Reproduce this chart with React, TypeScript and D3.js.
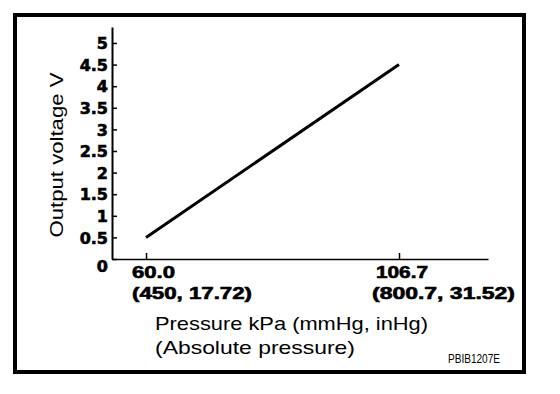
import React, { useEffect, useRef } from 'react';
import * as d3 from 'd3';

// Sensor characteristic: pressure (kPa) vs output voltage (V)
const pressureKpa = [60.0, 106.7];
const outputVoltage = [0.5, 4.5];
const pressureTickLabels = ['60.0', '106.7'];
const pressureSubLabels = ['(450, 17.72)', '(800.7, 31.52)'];
const voltageTicks = [0, 0.5, 1, 1.5, 2, 2.5, 3, 3.5, 4, 4.5, 5];

const W = 560;
const H = 394;

const App: React.FC = () => {
  const svgRef = useRef<SVGSVGElement>(null);

  useEffect(() => {
    if (!svgRef.current) return;
    const svg = d3.select(svgRef.current);
    svg.selectAll('*').remove();

    const font = "'Liberation Sans', Arial, sans-serif";

    // outer frame
    svg.append('rect')
      .attr('x', 15).attr('y', 15)
      .attr('width', 509).attr('height', 357)
      .attr('fill', 'none')
      .attr('stroke', '#000')
      .attr('stroke-width', 4);

    const x = d3.scaleLinear().domain([53.72, 123.13]).range([112, 488]);
    const y = d3.scaleLinear().domain([0, 5.37]).range([259, 27]);

    // Y axis with inward ticks
    const yAxis = svg.append('g')
      .attr('transform', `translate(${x.range()[0]},0)`)
      .call(d3.axisLeft(y).tickValues(voltageTicks).tickSize(-5).tickSizeOuter(0).tickPadding(4).tickFormat(d => String(d)));
    yAxis.select('.domain').attr('stroke-width', 2);
    yAxis.selectAll('.tick line').attr('stroke-width', 1.5);
    yAxis.selectAll('.tick text')
      .attr('font-family', "'DejaVu Sans', sans-serif")
      .attr('font-weight', 'bold')
      .attr('font-size', 16)
      .attr('fill', '#000')
      .attr('stroke', '#000')
      .attr('stroke-width', 0.6)
      .attr('dy', (d: any) => (d === 0 ? '0.75em' : '0.36em'));

    // X axis with upward ticks
    const xAxis = svg.append('g')
      .attr('transform', `translate(0,${y(0)})`)
      .call(d3.axisBottom(x).tickValues(pressureKpa).tickSize(-6).tickSizeOuter(0).tickFormat(() => ''));
    xAxis.select('.domain').attr('stroke-width', 1.5);
    xAxis.selectAll('.tick line').attr('stroke-width', 1.5);

    // X tick labels (kPa and mmHg, inHg)
    const labelShift = [-14, -23];
    const labelWidth = [43, 52];
    const subShift = [-14, -27];
    const subWidth = [120, 143];
    pressureKpa.forEach((v, i) => {
      svg.append('text')
        .attr('x', x(v) + labelShift[i])
        .attr('y', 278)
        .attr('font-family', font)
        .attr('font-weight', 'bold')
        .attr('font-size', 16)
        .attr('stroke', '#000')
        .attr('stroke-width', 0.6)
        .attr('textLength', labelWidth[i])
        .attr('lengthAdjust', 'spacingAndGlyphs')
        .text(pressureTickLabels[i]);
      svg.append('text')
        .attr('x', x(v) + subShift[i])
        .attr('y', 299)
        .attr('font-family', font)
        .attr('font-weight', 'bold')
        .attr('font-size', 16)
        .attr('stroke', '#000')
        .attr('stroke-width', 0.6)
        .attr('textLength', subWidth[i])
        .attr('lengthAdjust', 'spacingAndGlyphs')
        .text(pressureSubLabels[i]);
    });

    // Characteristic line
    const line = d3.line<number>()
      .x((d, i) => x(pressureKpa[i]))
      .y(d => y(d));
    svg.append('path')
      .datum(outputVoltage)
      .attr('d', line)
      .attr('fill', 'none')
      .attr('stroke', '#000')
      .attr('stroke-width', 3);

    // Axis titles
    svg.append('text')
      .attr('transform', 'translate(63,155) rotate(-90)')
      .attr('text-anchor', 'middle')
      .attr('font-family', font)
      .attr('font-size', 19)
      .attr('textLength', 165)
      .attr('lengthAdjust', 'spacingAndGlyphs')
      .text('Output voltage V');

    svg.append('text')
      .attr('x', 155).attr('y', 330)
      .attr('font-family', font)
      .attr('font-size', 19)
      .attr('textLength', 273)
      .attr('lengthAdjust', 'spacingAndGlyphs')
      .text('Pressure kPa (mmHg, inHg)');

    svg.append('text')
      .attr('x', 155).attr('y', 354)
      .attr('font-family', font)
      .attr('font-size', 19)
      .attr('textLength', 200)
      .attr('lengthAdjust', 'spacingAndGlyphs')
      .text('(Absolute pressure)');

    svg.append('text')
      .attr('x', 448).attr('y', 363)
      .attr('font-family', font)
      .attr('font-size', 12)
      .attr('textLength', 52)
      .attr('lengthAdjust', 'spacingAndGlyphs')
      .text('PBIB1207E');
  }, []);

  return (
    <svg
      ref={svgRef}
      width={W}
      height={H}
      style={{ position: 'absolute', left: 0, top: 0, background: '#fff' }}
    />
  );
};

export default App;
